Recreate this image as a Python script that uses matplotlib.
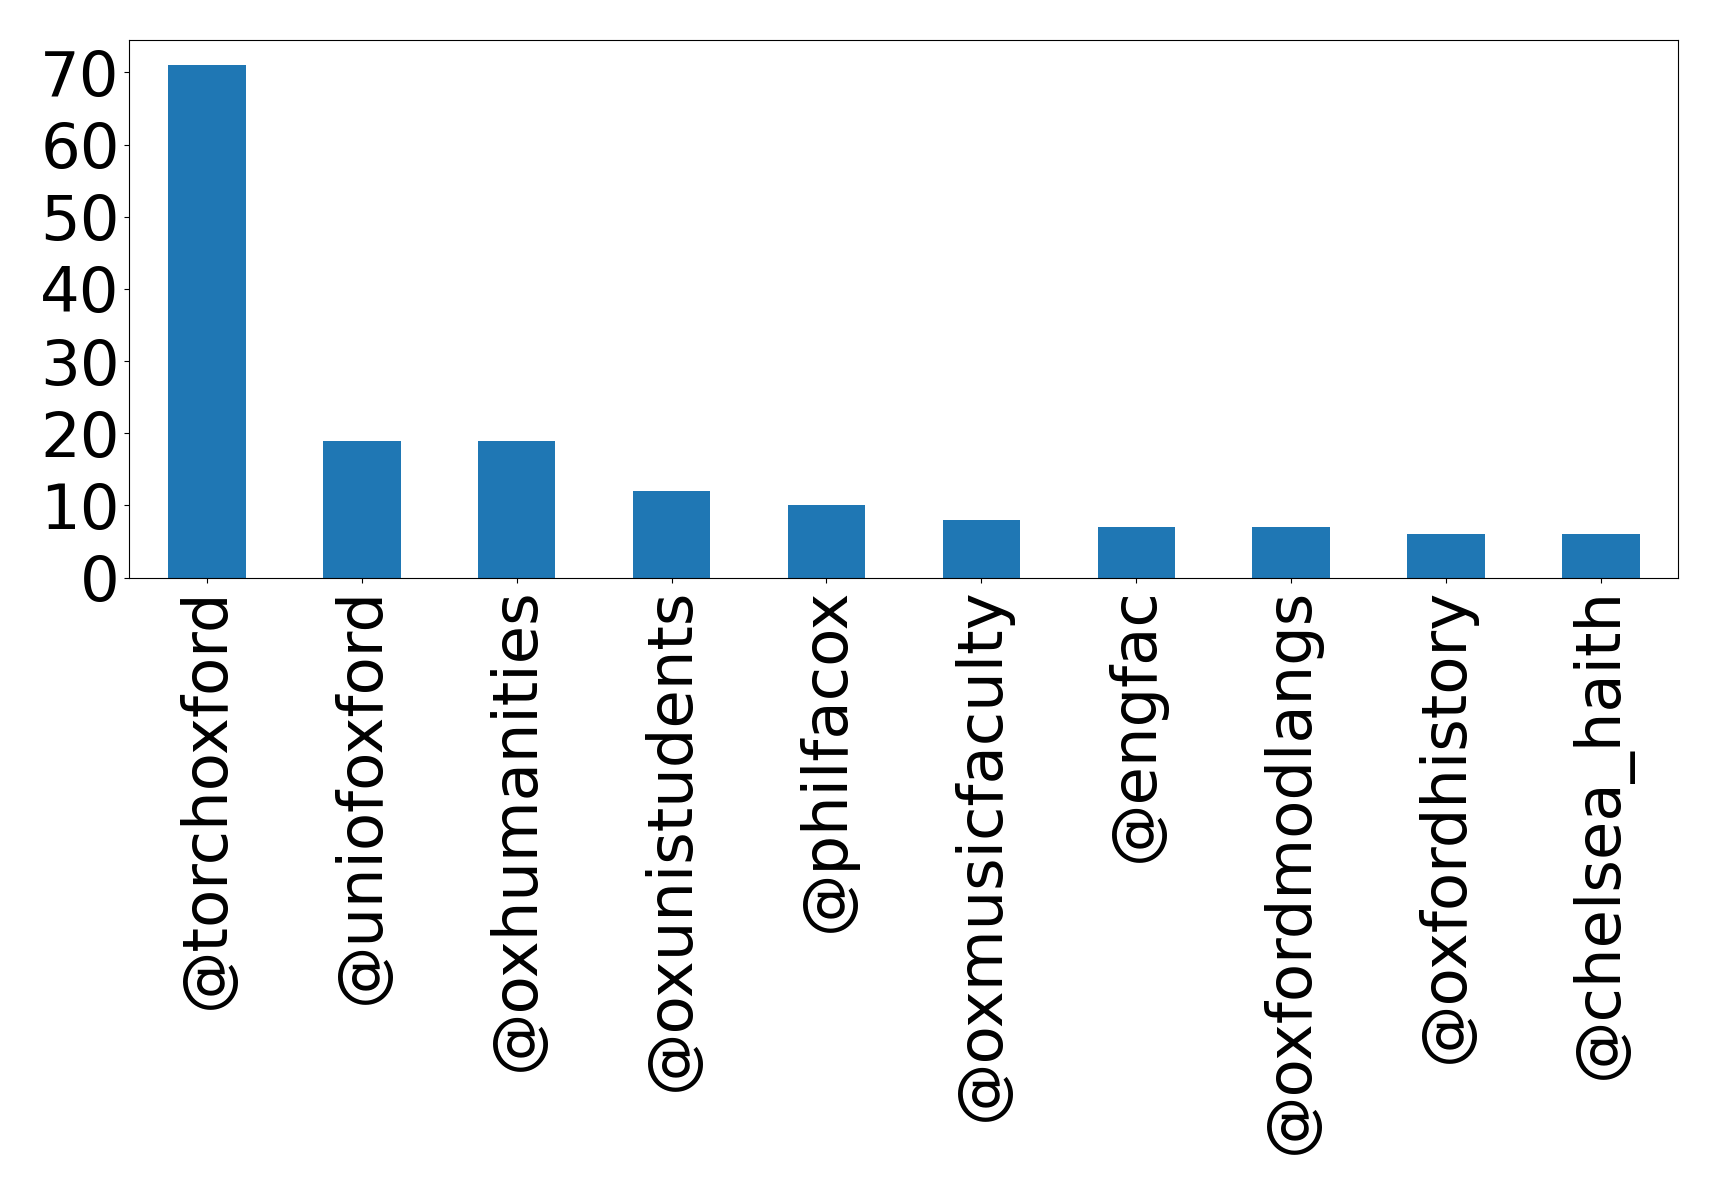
import pandas as pd
import matplotlib
matplotlib.use('Agg')
import matplotlib.pyplot as plt

# Accounts and their counts
accounts = ['@torchoxford', '@uniofoxford', '@oxhumanities', '@oxunistudents',
            '@philfacox', '@oxmusicfaculty', '@engfac', '@oxfordmodlangs',
            '@oxfordhistory', '@chelsea_haith']
counts = [71, 19, 19, 12, 10, 8, 7, 7, 6, 6]

series = pd.Series(counts, index=accounts)

fig = plt.figure(figsize=(17.19, 11.94), dpi=100)
ax = fig.add_axes([0.0753, 0.5162, 0.9011, 0.4507])
series.plot.bar(ax=ax, fontsize=45)

plt.savefig('out.png', dpi=100)
